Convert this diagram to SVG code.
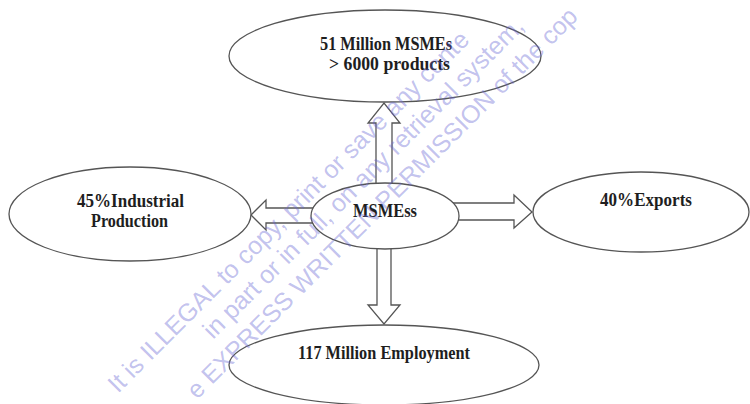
<svg xmlns="http://www.w3.org/2000/svg" width="750" height="404" viewBox="0 0 750 404">
<style>
.node ellipse{fill:#fff;stroke:#555;stroke-width:1.3}
.conn polygon{fill:#fff;stroke:#555;stroke-width:1.3;stroke-linejoin:miter}
.lbl{font-family:"Liberation Serif","Times New Roman",serif;font-weight:bold;font-size:18px;fill:#1e1e1e}
.wm{font-family:"Liberation Sans",Arial,sans-serif;font-size:25px;fill:#6464d2;fill-opacity:0.4}
</style>
<rect width="750" height="404" fill="#fff"/>
<g id="connectors" class="conn">
<polygon points="376,200 376,123 368,123 384,103 400,123 392,123 392,200"/>
<polygon points="377,240 377,305 368,305 384,324 400,305 391,305 391,240"/>
<polygon points="320,208 266,208 266,200 251,215 266,230 266,223 320,223"/>
<polygon points="450,203 514,203 514,195 532,212 514,228 514,220 450,220"/>
</g>
<g id="node-top" class="node">
<ellipse cx="385" cy="56" rx="156" ry="46"/>
<text class="lbl" x="320" y="50" textLength="132" lengthAdjust="spacingAndGlyphs">51 Million MSMEs</text>
<text class="lbl" x="329" y="70" textLength="121" lengthAdjust="spacingAndGlyphs">&gt; 6000 products</text>
</g>
<g id="node-left" class="node">
<ellipse cx="130" cy="214" rx="121" ry="47"/>
<text class="lbl" x="77" y="207" textLength="107" lengthAdjust="spacingAndGlyphs">45%Industrial</text>
<text class="lbl" x="91" y="227" textLength="77" lengthAdjust="spacingAndGlyphs">Production</text>
</g>
<g id="node-center" class="node">
<ellipse cx="385" cy="216" rx="74" ry="33"/>
<text class="lbl" x="353" y="217" textLength="64" lengthAdjust="spacingAndGlyphs">MSMEss</text>
</g>
<g id="node-right" class="node">
<ellipse cx="641" cy="212" rx="108" ry="40"/>
<text class="lbl" x="600" y="206" textLength="92" lengthAdjust="spacingAndGlyphs">40%Exports</text>
</g>
<g id="node-bottom" class="node">
<ellipse cx="384" cy="365" rx="155" ry="40"/>
<text class="lbl" x="298" y="359" textLength="172" lengthAdjust="spacingAndGlyphs">117 Million Employment</text>
</g>
<g id="watermark">
<text class="wm" transform="translate(118,394) rotate(-45)">It is ILLEGAL to copy, print or save any conte</text>
<text class="wm" transform="translate(213,340) rotate(-45)">in part or in full, on any retrieval system,</text>
<text class="wm" transform="translate(197,400) rotate(-45)">e EXPRESS WRITTEN PERMISSION of the cop</text>
</g>
</svg>
